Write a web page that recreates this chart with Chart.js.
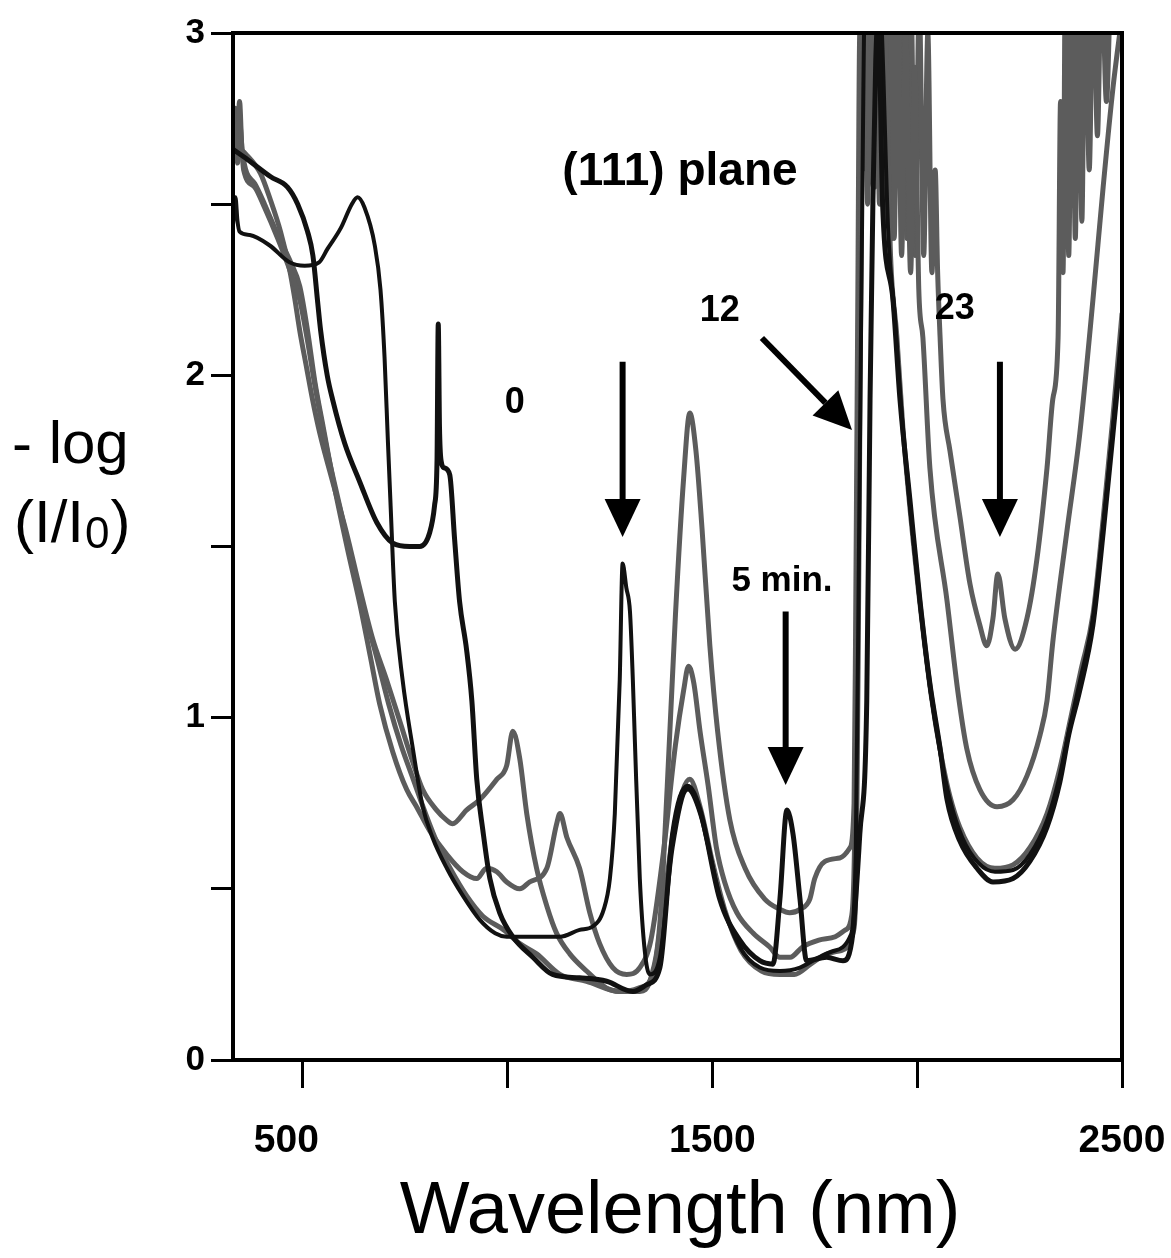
<!DOCTYPE html>
<html>
<head>
<meta charset="utf-8">
<script src="https://cdn.jsdelivr.net/npm/chart.js@4.4.1/dist/chart.umd.min.js"></script>
<style>
  html, body { margin: 0; padding: 0; background: #fff; }
  canvas { display: block; }
</style>
</head>
<body>
<canvas id="myChart" width="1171" height="1258"></canvas>
<script>
// spectra of the (111) plane, -log(I/I0) against wavelength (nm)

// 0 min (black, thin)
var wl0 = [330, 336, 341, 346, 371, 419, 468, 505, 540, 561, 593, 620, 634, 651, 676, 690, 700, 708, 714, 725, 744, 769, 793, 817, 852, 891, 932, 970, 998, 1060, 1128, 1176, 1208, 1235, 1250, 1262, 1274, 1281, 1290, 1299, 1306, 1311, 1323, 1335, 1347, 1372, 1403, 1440, 1470, 1518, 1567, 1616, 1665, 1714, 1760, 1800, 1836, 1850, 1858, 1866, 1872, 1890, 1910, 1930, 1945, 1960, 1982, 2007, 2031, 2056, 2080, 2110, 2150, 2190, 2234, 2275, 2317, 2348, 2372, 2398, 2429, 2454, 2478, 2500];
var abs0 = [2.44, 2.52, 2.45, 2.42, 2.41, 2.38, 2.33, 2.32, 2.33, 2.37, 2.43, 2.50, 2.52, 2.49, 2.38, 2.25, 2.05, 1.81, 1.64, 1.34, 1.11, 0.91, 0.74, 0.65, 0.56, 0.48, 0.41, 0.37, 0.36, 0.36, 0.36, 0.38, 0.39, 0.44, 0.53, 0.72, 1.11, 1.45, 1.38, 1.31, 1.11, 0.93, 0.53, 0.32, 0.25, 0.30, 0.62, 0.79, 0.72, 0.48, 0.33, 0.27, 0.26, 0.27, 0.30, 0.32, 0.36, 0.60, 1.50, 2.50, 3.10, 3.20, 3.10, 2.40, 2.18, 1.92, 1.62, 1.33, 1.09, 0.90, 0.76, 0.65, 0.575, 0.55, 0.555, 0.60, 0.70, 0.83, 0.97, 1.11, 1.29, 1.56, 1.85, 2.14];

// 5 min (black, thick)
var wl5 = [330, 366, 422, 463, 488, 512, 525, 537, 544, 560, 573, 603, 639, 681, 720, 761, 786, 810, 822, 828, 831, 834, 838, 845, 859, 871, 883, 900, 913, 925, 940, 957, 981, 1013, 1062, 1110, 1176, 1242, 1306, 1340, 1372, 1403, 1440, 1470, 1518, 1567, 1616, 1648, 1665, 1682, 1697, 1714, 1730, 1779, 1819, 1843, 1860, 1877, 1885, 1892, 1899, 1905, 1916, 1941, 1958, 1982, 2007, 2031, 2056, 2073, 2104, 2146, 2185, 2234, 2275, 2317, 2348, 2370, 2397, 2429, 2454, 2478, 2500];
var abs5 = [2.66, 2.63, 2.58, 2.55, 2.50, 2.42, 2.35, 2.21, 2.13, 2.00, 1.93, 1.80, 1.69, 1.57, 1.51, 1.50, 1.50, 1.54, 1.62, 1.75, 2.15, 1.85, 1.75, 1.73, 1.71, 1.52, 1.34, 1.20, 1.05, 0.82, 0.67, 0.53, 0.43, 0.36, 0.30, 0.25, 0.24, 0.23, 0.20, 0.22, 0.27, 0.66, 0.80, 0.73, 0.47, 0.35, 0.29, 0.28, 0.47, 0.73, 0.66, 0.47, 0.29, 0.30, 0.29, 0.37, 0.66, 1.05, 1.93, 2.51, 2.92, 3.05, 2.49, 2.22, 1.93, 1.64, 1.34, 1.10, 0.91, 0.76, 0.64, 0.56, 0.52, 0.53, 0.58, 0.68, 0.81, 0.95, 1.08, 1.27, 1.54, 1.83, 2.10];

// 12 min (grey)
var wl12 = [330, 340, 346, 352, 383, 407, 439, 471, 493, 512, 530, 550, 580, 610, 640, 665, 688, 720, 754, 778, 810, 852, 891, 925, 949, 974, 998, 1030, 1054, 1096, 1120, 1128, 1145, 1176, 1201, 1225, 1257, 1291, 1323, 1350, 1380, 1410, 1430, 1442, 1455, 1470, 1490, 1510, 1530, 1560, 1600, 1640, 1665, 1690, 1720, 1760, 1800, 1825, 1840, 1848, 1853, 1858, 1862, 1866, 1872, 1878, 1884, 1890, 1897, 1904, 1912, 1920, 1928, 1936, 1944, 1952, 1962, 1972, 1984, 1994, 2004, 2014, 2031, 2073, 2100, 2121, 2153, 2195, 2234, 2268, 2300, 2317, 2331, 2365, 2397, 2429, 2454, 2478, 2500];
var abs12 = [2.72, 2.66, 2.80, 2.66, 2.56, 2.50, 2.41, 2.33, 2.26, 2.13, 1.98, 1.85, 1.66, 1.49, 1.33, 1.18, 1.04, 0.90, 0.79, 0.74, 0.67, 0.60, 0.55, 0.53, 0.56, 0.55, 0.52, 0.50, 0.52, 0.56, 0.69, 0.72, 0.65, 0.56, 0.43, 0.34, 0.27, 0.25, 0.27, 0.35, 0.60, 0.92, 1.08, 1.15, 1.10, 0.96, 0.80, 0.62, 0.52, 0.43, 0.37, 0.33, 0.30, 0.30, 0.33, 0.35, 0.36, 0.38, 0.42, 0.70, 1.50, 2.40, 3.00, 3.20, 2.70, 3.20, 2.60, 3.20, 2.55, 3.20, 2.50, 3.20, 2.45, 3.10, 2.40, 3.10, 2.35, 3.00, 2.30, 2.90, 2.25, 2.11, 1.73, 1.34, 1.07, 0.91, 0.79, 0.74, 0.76, 0.83, 0.95, 1.05, 1.22, 1.54, 1.83, 2.22, 2.55, 2.84, 3.05];

// 23 min (grey, highest)
var wl23 = [330, 336, 341, 346, 366, 397, 422, 446, 468, 480, 493, 510, 524, 542, 573, 607, 639, 671, 705, 737, 769, 793, 827, 852, 866, 900, 932, 974, 998, 1013, 1030, 1047, 1071, 1096, 1120, 1152, 1193, 1242, 1274, 1323, 1350, 1372, 1390, 1410, 1430, 1445, 1460, 1475, 1494, 1513, 1543, 1580, 1628, 1665, 1689, 1714, 1738, 1750, 1775, 1811, 1836, 1846, 1850, 1855, 1860, 1866, 1872, 1879, 1886, 1893, 1900, 1908, 1916, 1924, 1932, 1940, 1948, 1957, 1966, 1975, 1985, 1995, 2005, 2016, 2026, 2036, 2044, 2050, 2056, 2063, 2080, 2104, 2129, 2153, 2170, 2185, 2197, 2214, 2239, 2268, 2292, 2317, 2331, 2344, 2350, 2356, 2362, 2370, 2378, 2386, 2394, 2402, 2410, 2420, 2430, 2440, 2450, 2462, 2475, 2490, 2500];
var abs23 = [2.69, 2.78, 2.62, 2.66, 2.64, 2.59, 2.51, 2.42, 2.31, 2.23, 2.13, 2.02, 1.93, 1.83, 1.69, 1.54, 1.38, 1.23, 1.11, 0.99, 0.87, 0.79, 0.73, 0.70, 0.69, 0.73, 0.76, 0.82, 0.86, 0.96, 0.88, 0.72, 0.56, 0.45, 0.37, 0.31, 0.26, 0.21, 0.20, 0.20, 0.24, 0.40, 0.80, 1.30, 1.70, 1.89, 1.78, 1.55, 1.21, 0.96, 0.70, 0.56, 0.47, 0.44, 0.43, 0.44, 0.47, 0.53, 0.58, 0.59, 0.62, 0.75, 1.30, 2.20, 3.00, 2.60, 3.20, 2.50, 3.20, 2.55, 3.20, 2.50, 3.20, 2.45, 3.20, 2.40, 3.10, 2.55, 3.20, 2.40, 3.10, 2.35, 3.10, 2.35, 3.00, 2.30, 2.60, 2.30, 2.11, 1.93, 1.78, 1.59, 1.39, 1.27, 1.21, 1.29, 1.42, 1.29, 1.20, 1.29, 1.46, 1.73, 1.93, 2.11, 2.80, 2.30, 3.20, 2.35, 3.20, 2.40, 3.20, 2.45, 3.20, 2.60, 3.20, 2.70, 3.20, 2.80, 3.20, 3.00, 3.20];

// late spectrum (grey)
var wlL = [330, 346, 356, 383, 407, 439, 471, 493, 512, 530, 560, 590, 620, 650, 680, 710, 740, 770, 800, 830, 860, 900, 940, 991, 1030, 1071, 1128, 1193, 1274, 1320, 1355, 1380, 1410, 1445, 1470, 1500, 1530, 1570, 1620, 1665, 1700, 1740, 1780, 1815, 1843, 1852, 1858, 1864, 1870, 1885, 1895, 1910, 1920, 1935, 1950, 1965, 1985, 2010, 2035, 2060, 2080, 2104, 2146, 2190, 2234, 2275, 2317, 2348, 2375, 2400, 2429, 2454, 2478, 2500];
var absL = [2.70, 2.74, 2.60, 2.55, 2.49, 2.40, 2.30, 2.22, 2.10, 1.97, 1.78, 1.62, 1.46, 1.31, 1.18, 1.04, 0.92, 0.82, 0.72, 0.63, 0.56, 0.48, 0.42, 0.38, 0.34, 0.31, 0.25, 0.23, 0.20, 0.21, 0.25, 0.45, 0.70, 0.82, 0.74, 0.58, 0.44, 0.32, 0.26, 0.25, 0.25, 0.28, 0.31, 0.32, 0.37, 0.60, 1.50, 2.50, 3.10, 2.70, 3.15, 2.60, 3.05, 2.35, 2.12, 1.85, 1.58, 1.30, 1.06, 0.88, 0.77, 0.68, 0.59, 0.56, 0.57, 0.62, 0.72, 0.85, 1.00, 1.14, 1.30, 1.58, 1.88, 2.18];

// annotations, in data units (nm, absorbance)
var labelText = ['(111) plane', '0', '12', '23', '5 min.'];
var labelX = [1421, 1018, 1518, 2092, 1670];
var labelY = [2.556, 1.89, 2.16, 2.165, 1.37];
var labelSize = [46, 36, 36, 36, 35];

var arrowFromX = [1281, 1679, 1621, 2202];
var arrowFromY = [2.04, 1.31, 2.109, 2.04];
var arrowToX = [1281, 1679, 1841, 2202];
var arrowToY = [1.528, 0.803, 1.84, 1.528];

var xTicks = [500, 1000, 1500, 2000, 2500];

function pts(xs, ys) {
    return xs.map(function (x, i) { return { x: x, y: ys[i] }; });
}

var FONT = '"Liberation Sans", Arial, Helvetica, sans-serif';
var GREY = '#5c5c5c';

var extras = {
    id: 'extras',
    afterDraw: function (chart) {
        var ctx = chart.ctx;
        var a = chart.chartArea;
        var xs = chart.scales.x, ys = chart.scales.y;
        ctx.save();
        // frame
        ctx.strokeStyle = '#000';
        ctx.lineWidth = 4;
        ctx.strokeRect(a.left, a.top, a.right - a.left, a.bottom - a.top);

        // arrows
        ctx.fillStyle = '#000';
        for (var i = 0; i < arrowFromX.length; i++) {
            var x1 = xs.getPixelForValue(arrowFromX[i]), y1 = ys.getPixelForValue(arrowFromY[i]);
            var x2 = xs.getPixelForValue(arrowToX[i]), y2 = ys.getPixelForValue(arrowToY[i]);
            var ang = Math.atan2(y2 - y1, x2 - x1);
            var hl = 38, hw = 18;
            var bx = x2 - hl * Math.cos(ang), by = y2 - hl * Math.sin(ang);
            ctx.lineWidth = 6;
            ctx.beginPath();
            ctx.moveTo(x1, y1);
            ctx.lineTo(bx, by);
            ctx.stroke();
            ctx.beginPath();
            ctx.moveTo(x2, y2);
            ctx.lineTo(bx + hw * Math.sin(ang), by - hw * Math.cos(ang));
            ctx.lineTo(bx - hw * Math.sin(ang), by + hw * Math.cos(ang));
            ctx.closePath();
            ctx.fill();
        }

        // labels
        ctx.textAlign = 'center';
        ctx.textBaseline = 'alphabetic';
        for (var j = 0; j < labelText.length; j++) {
            ctx.font = 'bold ' + labelSize[j] + 'px ' + FONT;
            ctx.fillText(labelText[j], xs.getPixelForValue(labelX[j]), ys.getPixelForValue(labelY[j]));
        }

        // axis titles
        ctx.font = '74px ' + FONT;
        ctx.fillText('Wavelength (nm)', 680, 1233);

        ctx.textAlign = 'left';
        ctx.font = '60px ' + FONT;
        ctx.fillText('- log', 12, 463);
        var px = 14;
        ctx.fillText('(I/I', px, 542);
        px += ctx.measureText('(I/I').width;
        ctx.font = '44px ' + FONT;
        ctx.fillText('0', px + 1, 548);
        px += ctx.measureText('0').width + 2;
        ctx.font = '60px ' + FONT;
        ctx.fillText(')', px, 542);
        ctx.restore();
    }
};

var ctx = document.getElementById('myChart').getContext('2d');
var chart = new Chart(ctx, {
    type: 'line',
    data: {
        datasets: [
            { label: '5 min', data: pts(wl5, abs5), borderColor: '#111', borderWidth: 5 },
            { label: '0', data: pts(wl0, abs0), borderColor: '#111', borderWidth: 4 },
            { label: 'late', data: pts(wlL, absL), borderColor: GREY, borderWidth: 5 },
            { label: '12', data: pts(wl12, abs12), borderColor: GREY, borderWidth: 5 },
            { label: '23', data: pts(wl23, abs23), borderColor: GREY, borderWidth: 5 }
        ]
    },
    options: {
        responsive: false,
        animation: false,
        devicePixelRatio: 1,
        layout: { padding: { top: 33, right: 49, left: 0, bottom: 0 } },
        plugins: { legend: { display: false }, tooltip: { enabled: false } },
        elements: {
            point: { radius: 0 },
            line: { tension: 0, cubicInterpolationMode: 'monotone', borderJoinStyle: 'round', borderCapStyle: 'round', fill: false }
        },
        scales: {
            x: {
                type: 'linear',
                min: 330,
                max: 2500,
                afterFit: function (s) { s.height = 198; s.paddingLeft = 0; s.paddingRight = 0; },
                afterBuildTicks: function (s) { s.ticks = xTicks.map(function (v) { return { value: v }; }); },
                ticks: {
                    autoSkip: false,
                    maxRotation: 0,
                    padding: 30,
                    color: '#000',
                    font: { family: FONT, size: 39, weight: 'bold' },
                    // the first label sits a little left of its tick in the original
                    callback: function (v) {
                        if (v === 500) return '500   ';
                        return v % 1000 === 500 ? String(v) : '';
                    }
                },
                grid: { drawOnChartArea: false, tickLength: 28, tickWidth: 3, color: '#000' },
                border: { width: 4, color: '#000' }
            },
            y: {
                min: 0,
                max: 3,
                afterFit: function (s) { s.width = 233; s.paddingTop = 0; s.paddingBottom = 0; },
                ticks: {
                    stepSize: 0.5,
                    padding: 6,
                    color: '#000',
                    font: { family: FONT, size: 35, weight: 'bold' },
                    callback: function (v) { return Number.isInteger(v) ? String(v) : ''; }
                },
                grid: { drawOnChartArea: false, tickLength: 22, tickWidth: 3, color: '#000' },
                border: { width: 4, color: '#000' }
            }
        }
    },
    plugins: [extras]
});
</script>
</body>
</html>
